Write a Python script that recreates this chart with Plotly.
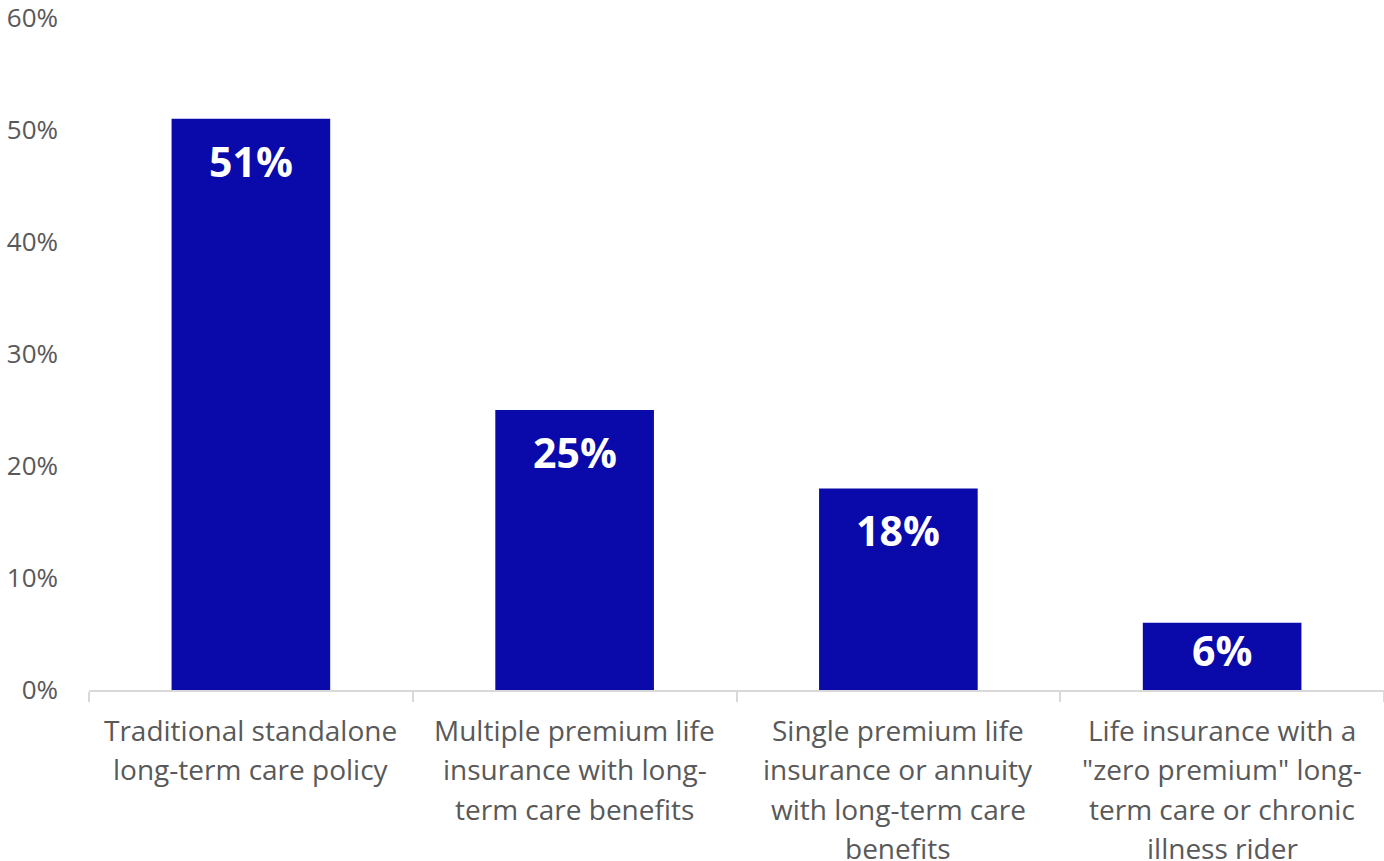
import plotly.graph_objects as go

# Share of respondents by type of long-term care coverage
categories = [
    "Traditional standalone long-term care policy",
    "Multiple premium life insurance with long-term care benefits",
    "Single premium life insurance or annuity with long-term care benefits",
    'Life insurance with a "zero premium" long-term care or chronic illness rider',
]
category_lines = [
    ["Traditional standalone", "long-term care policy"],
    ["Multiple premium life", "insurance with long-", "term care benefits"],
    ["Single premium life", "insurance or annuity", "with long-term care", "benefits"],
    ["Life insurance with a", '"zero premium" long-', "term care or chronic", "illness rider"],
]
values = [51, 25, 18, 6]
y_ticks = [0, 10, 20, 30, 40, 50, 60]

BAR_COLOR = "#0A0AAA"
TEXT_GREY = "#595959"
AXIS_GREY = "#D9D9D9"
FONT = "Open Sans"

plot_top, plot_bottom = 18, 690
px_per_unit = (plot_bottom - plot_top) / 60

fig = go.Figure(
    go.Bar(
        x=categories,
        y=values,
        marker=dict(color=BAR_COLOR, line=dict(width=0)),
        hoverinfo="x+y",
    )
)

# value labels inside the top of each bar
for cat, v in zip(categories, values):
    bar_px = v * px_per_unit
    offset = min(42, bar_px * 0.4)
    fig.add_annotation(
        x=cat, y=v, xref="x", yref="y",
        text=f"<b>{v}%</b>", showarrow=False,
        yanchor="middle", yshift=-offset,
        font=dict(family=FONT, size=41, color="white"),
    )

# wrapped category labels under the axis
for cat, lines in zip(categories, category_lines):
    for i, line in enumerate(lines):
        fig.add_annotation(
            x=cat, y=0, xref="x", yref="y",
            text=line, showarrow=False,
            yanchor="middle", yshift=-(40 + i * 39.3),
            font=dict(family=FONT, size=28, color=TEXT_GREY),
        )

fig.update_layout(
    width=1384, height=861,
    margin=dict(l=89, r=0, t=plot_top, b=861 - plot_bottom, pad=0),
    paper_bgcolor="white", plot_bgcolor="white",
    bargap=0.51,
    showlegend=False,
    font=dict(family=FONT, color=TEXT_GREY),
)
fig.update_xaxes(
    showticklabels=False,
    showline=True, linecolor=AXIS_GREY, linewidth=2,
    ticks="outside", tickson="boundaries", ticklen=10,
    tickcolor=AXIS_GREY, tickwidth=2,
    showgrid=False, zeroline=False,
)
fig.update_yaxes(
    range=[0, 60],
    tickvals=y_ticks, ticktext=[f"{t}%" for t in y_ticks],
    tickfont=dict(family=FONT, size=26, color=TEXT_GREY),
    ticklabelstandoff=30,
    ticklabeloverflow="allow",
    showline=False, showgrid=False, zeroline=False,
)

fig.write_html("out.html")
